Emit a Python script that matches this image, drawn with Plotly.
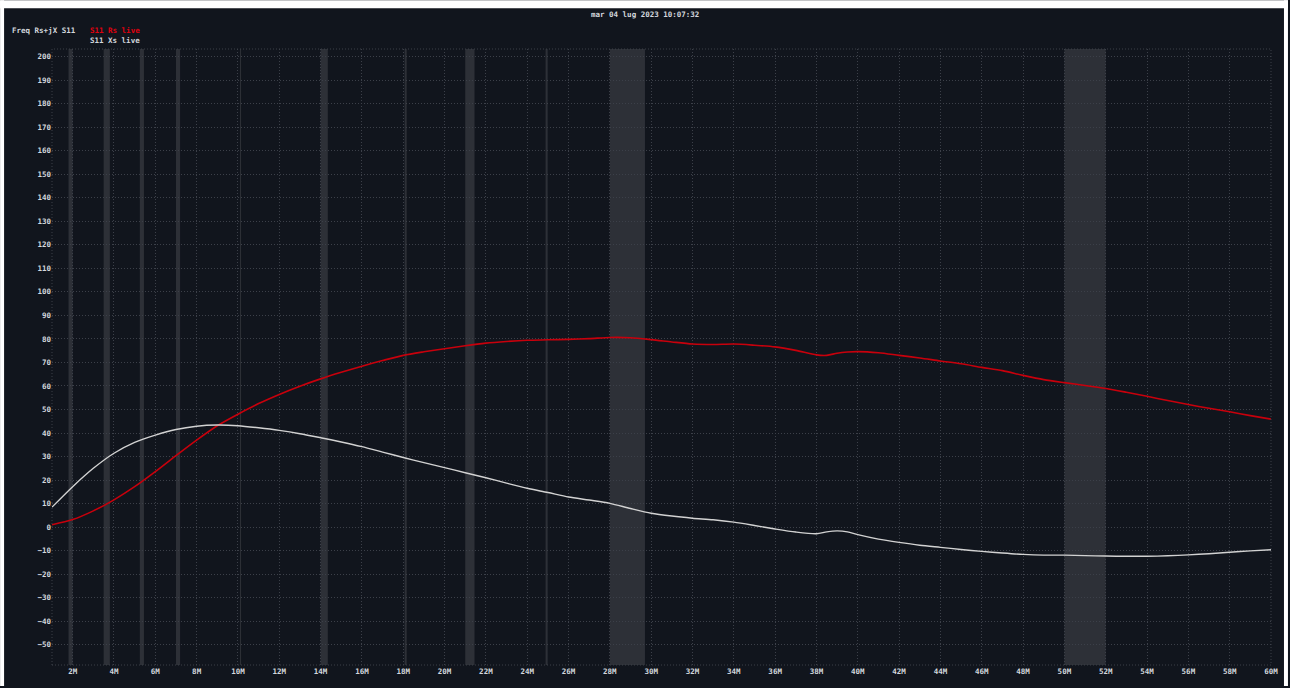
import plotly.graph_objects as go

# S11 sweep, 1-60 MHz
freq_mhz = [1, 2, 3, 4, 5, 6, 7, 8, 9, 10, 11, 12, 13, 14, 15, 16, 17, 18, 19, 20,
            21, 22, 23, 24, 25, 26, 27, 28, 29, 30, 31, 32, 33, 34, 35, 36, 37, 38,
            38.5, 39, 39.5, 40, 41, 42, 43, 44, 45, 46, 47, 48, 49, 50, 51, 52, 53,
            54, 55, 56, 57, 58, 59, 60]

rs_live = [1.0, 3.2, 6.9, 11.6, 17.2, 23.6, 30.4, 37.0, 43.1, 48.0, 52.5, 56.4, 59.9,
           63.0, 65.8, 68.4, 70.8, 73.0, 74.5, 75.8, 77.1, 78.2, 78.9, 79.4, 79.6, 79.8,
           80.1, 80.6, 80.5, 79.7, 78.7, 77.8, 77.6, 77.8, 77.3, 76.6, 75.1, 73.2,
           73.0, 73.9, 74.4, 74.6, 74.1, 73.0, 71.9, 70.6, 69.4, 67.9, 66.5, 64.5, 62.7,
           61.4, 60.2, 58.9, 57.3, 55.6, 53.8, 52.1, 50.5, 49.0, 47.4, 45.9]

xs_live = [8.5, 17.2, 25.0, 31.4, 36.0, 39.1, 41.5, 42.9, 43.4, 43.1, 42.2, 41.1, 39.7,
           38.0, 36.2, 34.2, 31.9, 29.6, 27.4, 25.3, 23.1, 21.0, 18.7, 16.5, 14.7, 12.8,
           11.5, 10.1, 7.9, 5.9, 4.7, 3.8, 3.1, 2.1, 0.7, -0.8, -2.1, -2.8,
           -2.0, -1.6, -2.0, -3.2, -5.1, -6.5, -7.7, -8.6, -9.5, -10.3, -11.0, -11.6, -11.9,
           -11.9, -12.1, -12.3, -12.4, -12.4, -12.2, -11.8, -11.3, -10.7, -10.1, -9.6]

# Amateur radio bands (MHz)
band_start = [1.8, 3.5, 5.25, 7.0, 10.1, 14.0, 18.068, 21.0, 24.89, 28.0, 50.0]
band_end = [2.0, 3.8, 5.45, 7.2, 10.15, 14.35, 18.168, 21.45, 24.99, 29.7, 52.0]

x_ticks = list(range(2, 61, 2))
x_tick_text = [f"{v}M" for v in x_ticks]
y_ticks = list(range(-50, 201, 10))

title_text = "mar 04 lug 2023 10:07:32"
legend_head = "Freq Rs+jX S11"
rs_name = "S11 Rs live"
xs_name = "S11 Xs live"

BG = "#11151d"
BAND = "#2d3037"
GRID = "#3c4049"
TEXT = "#d4d8de"
RED = "#c8000c"
WHITE = "#d2d2d2"
FONT = "DejaVu Sans Mono"
FS = 7.5

W, H = 1290, 688
ML, MR, MT, MB = 52, 17, 49, 21
PW, PH = W - ML - MR, H - MT - MB


def px(x):
    return (x - ML) / PW


def py(y):
    return (H - MB - y) / PH


fig = go.Figure()
fig.add_trace(go.Scatter(x=freq_mhz, y=rs_live, mode="lines", name=rs_name,
                         line=dict(color=RED, width=1.6, shape="spline", smoothing=0.8)))
fig.add_trace(go.Scatter(x=freq_mhz, y=xs_live, mode="lines", name=xs_name,
                         line=dict(color=WHITE, width=1.4, shape="spline", smoothing=0.8)))

shapes = []
for b0, b1 in zip(band_start, band_end):
    shapes.append(dict(type="rect", xref="x", yref="paper", x0=b0, x1=b1, y0=0, y1=1,
                       fillcolor=BAND, line=dict(width=0), layer="below"))
# dotted frame around the plot
shapes.append(dict(type="rect", xref="paper", yref="paper", x0=0, x1=1, y0=0, y1=1,
                   line=dict(color=GRID, width=1, dash="1px,2px"),
                   fillcolor="rgba(0,0,0,0)", layer="above"))
# light window edges
shapes.append(dict(type="rect", xref="paper", yref="paper", x0=px(0), x1=px(W),
                   y0=py(8), y1=py(0), fillcolor="#ffffff", line=dict(width=0), layer="above"))
shapes.append(dict(type="rect", xref="paper", yref="paper", x0=px(0), x1=px(4),
                   y0=py(H), y1=py(0), fillcolor="#ffffff", line=dict(width=0), layer="above"))
shapes.append(dict(type="rect", xref="paper", yref="paper", x0=px(1286), x1=px(W),
                   y0=py(H), y1=py(0), fillcolor="#ffffff", line=dict(width=0), layer="above"))

label_font = dict(family=FONT, size=FS, color=TEXT, weight="bold")

annotations = [
    dict(text=title_text, x=px(646), y=py(14), xref="paper", yref="paper",
         xanchor="center", yanchor="middle", showarrow=False, font=label_font),
    dict(text=legend_head, x=px(10), y=py(30), xref="paper", yref="paper",
         xanchor="left", yanchor="middle", showarrow=False, font=label_font),
    dict(text=rs_name, x=px(88), y=py(30), xref="paper", yref="paper",
         xanchor="left", yanchor="middle", showarrow=False,
         font=dict(family=FONT, size=FS, color="#e0000e", weight="bold")),
    dict(text=xs_name, x=px(88), y=py(40), xref="paper", yref="paper",
         xanchor="left", yanchor="middle", showarrow=False, font=label_font),
]

fig.update_layout(
    width=W, height=H,
    margin=dict(l=ML, r=MR, t=MT, b=MB, pad=0),
    paper_bgcolor=BG, plot_bgcolor=BG,
    showlegend=False,
    shapes=shapes, annotations=annotations,
    font=dict(family=FONT, size=FS, color=TEXT),
)
fig.update_xaxes(range=[1, 60], tickvals=x_ticks, ticktext=x_tick_text,
                 showgrid=True, gridcolor=GRID, griddash="1px,2px", gridwidth=1,
                 zeroline=False, showline=False, ticks="",
                 tickfont=label_font)
fig.update_yaxes(range=[-58.6, 203.2], tickvals=y_ticks,
                 showgrid=True, gridcolor=GRID, griddash="1px,2px", gridwidth=1,
                 zeroline=False, showline=False, ticks="",
                 tickfont=label_font)

fig.write_html("out.html")
